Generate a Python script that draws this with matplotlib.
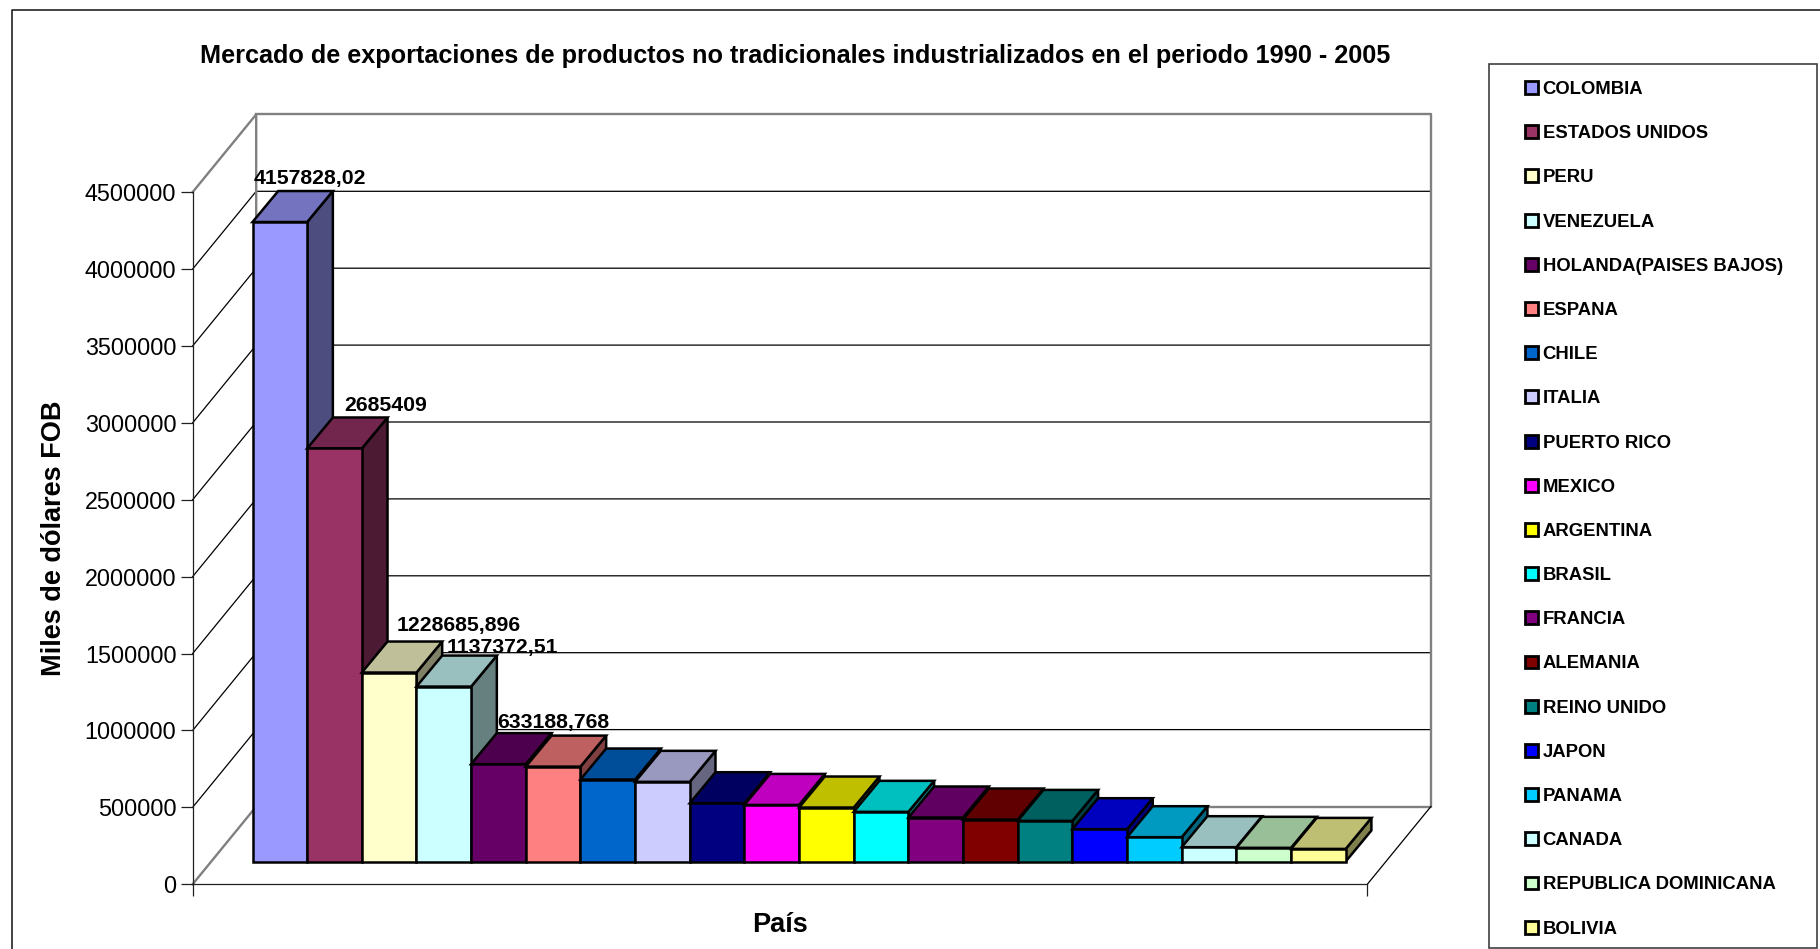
import matplotlib
matplotlib.use("Agg")
import matplotlib.pyplot as plt
from matplotlib.patches import Patch, Rectangle
from matplotlib.colors import to_rgb

plt.rcParams['font.family'] = ['Liberation Sans', 'DejaVu Sans']

countries = ["COLOMBIA", "ESTADOS UNIDOS", "PERU", "VENEZUELA", "HOLANDA(PAISES BAJOS)",
             "ESPANA", "CHILE", "ITALIA", "PUERTO RICO", "MEXICO", "ARGENTINA", "BRASIL",
             "FRANCIA", "ALEMANIA", "REINO UNIDO", "JAPON", "PANAMA", "CANADA",
             "REPUBLICA DOMINICANA", "BOLIVIA"]
values = [4157828.02, 2685409, 1228685.896, 1137372.51, 633188.768,
          617000, 533000, 518000, 379000, 368000, 351000, 323000,
          286000, 273000, 264000, 210000, 158000, 93000, 89000, 82000]
colors = ["#9999FF", "#993366", "#FFFFCC", "#CCFFFF", "#660066",
          "#FF8080", "#0066CC", "#CCCCFF", "#000080", "#FF00FF",
          "#FFFF00", "#00FFFF", "#800080", "#800000", "#008080",
          "#0000FF", "#00CCFF", "#CCFFFF", "#CCFFCC", "#FFFF99"]
value_labels = ["4157828,02", "2685409", "1228685,896", "1137372,51", "633188,768"]
label_offsets = [(4, 13), (25, 12), (44, 16), (33, 8), (29, 11)]
ticks = list(range(0, 5000000, 500000))

W, H = 1820, 949
BAR_W = 54.66       # px per category
PX_PER_UNIT = 76.9 / 500000
BAR_LEFT = 252.5
BAR_BASE = 861.5

fig = plt.figure(figsize=(W / 100, H / 100), dpi=100, facecolor="white")

# main axes fills the figure, x = bar index, y = value
ax = fig.add_axes([0, 0, 1, 1])
ax.set_xlim(-BAR_LEFT / BAR_W, (W - BAR_LEFT) / BAR_W)
ax.set_ylim((BAR_BASE - H) / PX_PER_UNIT, BAR_BASE / PX_PER_UNIT)
ax.axis("off")

# fake 3d depth, in data units
bar_dx, bar_dy = 25.7 / BAR_W, 31 / PX_PER_UNIT
wall_dx, wall_dy = 63.6 / BAR_W, 77.8 / PX_PER_UNIT
x0, x1 = (192.6 - BAR_LEFT) / BAR_W, (1367.3 - BAR_LEFT) / BAR_W
floor = (BAR_BASE - 884.3) / PX_PER_UNIT

# walls and gridlines
for t in ticks[1:-1]:
    ax.plot([x0, x0 + wall_dx, x1 + wall_dx], [floor + t, floor + t + wall_dy, floor + t + wall_dy],
            color="black", lw=0.9, zorder=1)
ax.plot([x0, x0 + wall_dx, x0 + wall_dx, x0],
        [floor, floor + wall_dy, floor + ticks[-1] + wall_dy, floor + ticks[-1]],
        color="#808080", lw=1.7, zorder=1)
ax.plot([x0 + wall_dx, x1 + wall_dx, x1 + wall_dx, x0 + wall_dx],
        [floor + wall_dy, floor + wall_dy, floor + ticks[-1] + wall_dy, floor + ticks[-1] + wall_dy],
        color="#808080", lw=1.7, zorder=1)
ax.plot([x1, x1 + wall_dx], [floor, floor + wall_dy], color="black", lw=0.9, zorder=1)

# bars, left to right so each one covers the side of the one before
for i, (v, c) in enumerate(zip(values, colors)):
    r, g, b = to_rgb(c)
    z = 2 + i
    ax.fill([i + 1, i + 1 + bar_dx, i + 1 + bar_dx, i + 1], [0, bar_dy, v + bar_dy, v],
            facecolor=(r * .5, g * .5, b * .5), edgecolor="black", lw=1.8, zorder=z)
    ax.fill([i, i + 1, i + 1 + bar_dx, i + bar_dx], [v, v, v + bar_dy, v + bar_dy],
            facecolor=(r * .75, g * .75, b * .75), edgecolor="black", lw=1.8, zorder=z)
    ax.bar(i, v, width=1, align="edge", color=c, edgecolor="black", lw=1.8, zorder=z)

# value labels
for i, (txt, off) in enumerate(zip(value_labels, label_offsets)):
    ax.annotate(txt, (i + 0.5 + bar_dx, values[i] + bar_dy), xytext=off, textcoords="offset pixels",
                ha="center", va="center", fontsize=15.3, fontweight="bold", zorder=40)

# front axes: real y ticks and x ticks
front = fig.add_axes([192.6 / W, (H - 884.3) / H, (1367.3 - 192.6) / W, 692.3 / H])
front.patch.set_visible(False)
front.set_xlim(0, 1)
front.set_ylim(0, 4500000)
front.set_yticks(ticks)
front.set_yticklabels([str(t) for t in ticks], fontsize=16.8)
front.set_xticks([0, 1])
front.set_xticklabels([])
front.tick_params(axis="both", length=8.6, width=0.9, color="#202020", pad=3)
for s in ["top", "right"]:
    front.spines[s].set_visible(False)
for s in ["left", "bottom"]:
    front.spines[s].set_color("#202020")
    front.spines[s].set_linewidth(0.9)
front.set_xlabel("País", fontsize=19.5, fontweight="bold")
front.xaxis.set_label_coords(0.5, -0.04)
front.set_ylabel("Miles de dólares FOB", fontsize=19.5, fontweight="bold")
front.yaxis.set_label_coords(-0.107, 0.5)

fig.text(795.5 / W, 1 - 56.5 / H, "Mercado de exportaciones de productos no tradicionales industrializados en el periodo 1990 - 2005",
         ha="center", va="center", fontsize=18.15, fontweight="bold")

# outer border, open at right and bottom like the source
ax.plot([11.5 / W, 11.5 / W, 1], [0, 1 - 10 / H, 1 - 10 / H], transform=fig.transFigure,
        color="#101010", lw=1.1, zorder=50, clip_on=False)

# legend box
fig.add_artist(Rectangle((1489 / W, 1 / H), (1816.7 - 1489) / W, (948 - 64.3) / H, transform=fig.transFigure,
                         facecolor="none", edgecolor="#404040", lw=1.2))
handles = [Patch(facecolor=c, edgecolor="black", lw=2) for c in colors]
leg = fig.legend(handles, countries, loc="upper left", bbox_to_anchor=(1525 / W, 1 - 81 / H),
                 frameon=False, fontsize=13.3, labelspacing=1.472, borderpad=0, borderaxespad=0,
                 handlelength=0.7, handleheight=0.7, handletextpad=0.25)
for t in leg.get_texts():
    t.set_fontweight("bold")

fig.savefig("out.png", dpi=100)
